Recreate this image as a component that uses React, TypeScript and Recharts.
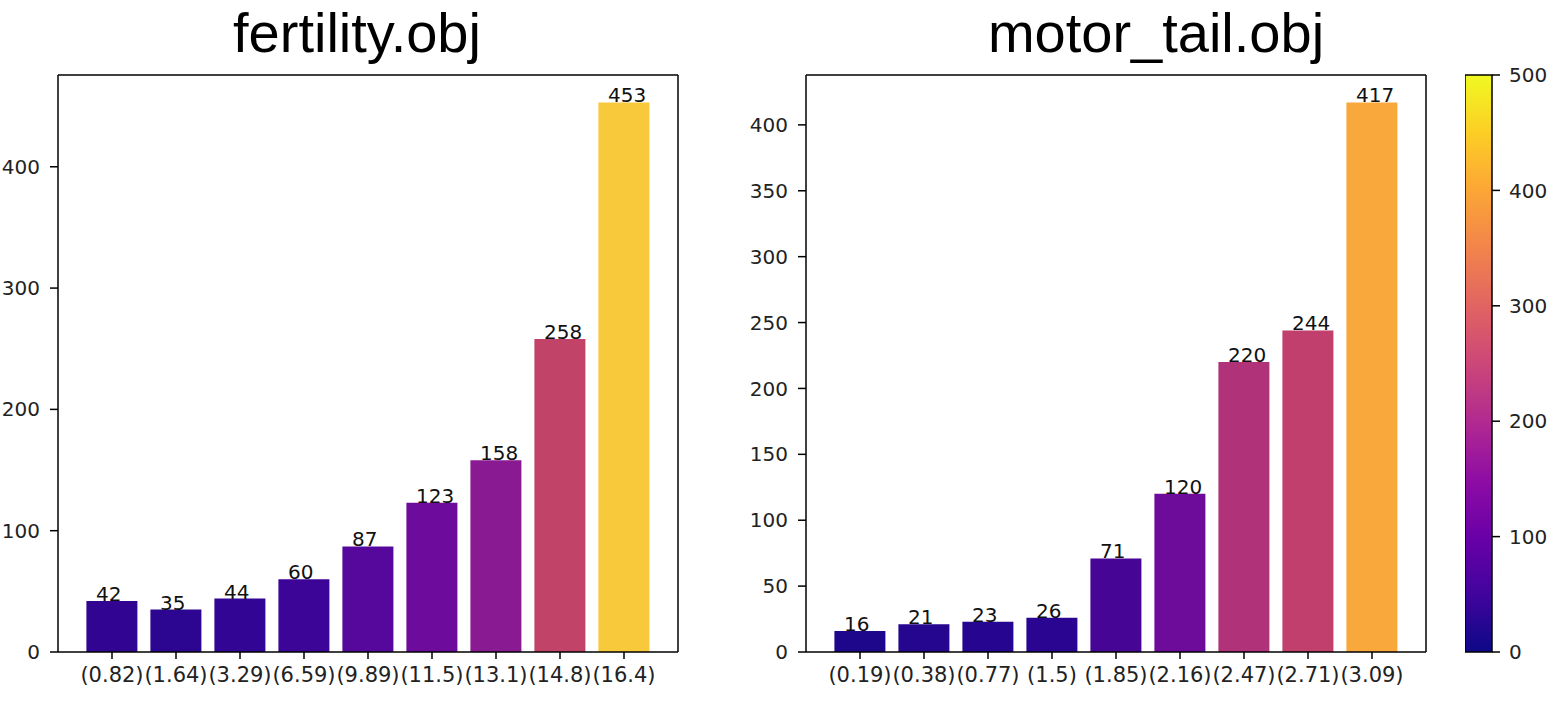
import React from 'react';
import {
  Bar,
  XAxis,
  YAxis,
  Cell,
  LabelList,
  ComposedChart,
  Line,
  ReferenceArea,
  CartesianGrid,
} from 'recharts';

// ---------- data ----------
const leftTitle = 'fertility.obj';
const rightTitle = 'motor_tail.obj';

const leftCategories = ['(0.82)', '(1.64)', '(3.29)', '(6.59)', '(9.89)', '(11.5)', '(13.1)', '(14.8)', '(16.4)'];
const leftValues = [42, 35, 44, 60, 87, 123, 158, 258, 453];

const rightCategories = ['(0.19)', '(0.38)', '(0.77)', '(1.5)', '(1.85)', '(2.16)', '(2.47)', '(2.71)', '(3.09)'];
const rightValues = [16, 21, 23, 26, 71, 120, 220, 244, 417];

const leftTicks = [0, 100, 200, 300, 400];
const rightTicks = [0, 50, 100, 150, 200, 250, 300, 350, 400];
const colorbarTicks = [0, 100, 200, 300, 400, 500];
const colorbarRange = [0, 500];

// ---------- styles ----------
const leftColors = ['#310592', '#2c0590', '#330594', '#3c0598', '#56079c', '#6c0b9c', '#8a1a92', '#c24368', '#f7c93b'];
const rightColors = ['#1f078c', '#24068f', '#260690', '#290591', '#470596', '#6d0b9b', '#b03278', '#c13f6c', '#f9a83c'];

const plasmaStops = [
  '#0d0887', '#41049d', '#6a00a8', '#8f0da4', '#b12a90', '#cc4778',
  '#e16462', '#f2844b', '#fca636', '#fcce25', '#f0f921',
];

const FONT = 'DejaVu Sans';
const TEXT = '#222222';
const AXIS = { stroke: '#000', strokeWidth: 1.5 };

const leftData = leftCategories.map((name, i) => ({ name, value: leftValues[i] }));
const rightData = rightCategories.map((name, i) => ({ name, value: rightValues[i] }));

const renderValueLabel = (props: any) => {
  const { x, y, width, value } = props;
  return (
    <text
      x={Number(x) + Number(width) * 0.1875}
      y={Number(y)}
      fontSize={20}
      fontFamily={FONT}
      fill="#111"
    >
      {value}
    </text>
  );
};

const topSpine = (args: any) => [args.offset.top];
const rightSpine = (args: any) => [args.offset.left + args.offset.width];

type PanelProps = {
  data: { name: string; value: number }[];
  colors: string[];
  ticks: number[];
  left: number;
};

const Panel = ({ data, colors, ticks, left }: PanelProps) => {
  const maxV = Math.max(...data.map((d) => d.value));
  const domain = [0, maxV * 1.05];
  return (
    <div style={{ position: 'absolute', left, top: 0 }}>
      <ComposedChart
        width={700}
        height={706}
        data={data}
        margin={{ top: 75, right: 22, bottom: 0, left: 0 }}
        barCategoryGap="10%"
      >
        <CartesianGrid
          stroke="#000"
          strokeWidth={1.5}
          horizontalCoordinatesGenerator={topSpine}
          verticalCoordinatesGenerator={rightSpine}
        />
        <XAxis
          dataKey="name"
          padding={{ left: 22, right: 22 }}
          height={54}
          interval={0}
          tickSize={7}
          tickMargin={8}
          tick={{ fontSize: 21, fill: TEXT, fontFamily: FONT }}
          axisLine={AXIS}
          tickLine={AXIS}
        />
        <YAxis
          width={58}
          type="number"
          domain={domain}
          allowDataOverflow
          ticks={ticks}
          interval={0}
          tickSize={8}
          tickMargin={10}
          tick={{ fontSize: 20, fill: TEXT, fontFamily: FONT }}
          axisLine={AXIS}
          tickLine={AXIS}
        />
        <Bar dataKey="value" isAnimationActive={false}>
          {data.map((d, i) => (
            <Cell key={d.name} fill={colors[i]} />
          ))}
          <LabelList dataKey="value" content={renderValueLabel} />
        </Bar>
      </ComposedChart>
    </div>
  );
};

const colorbarData = [{ x: 0, v: 0 }, { x: 1, v: 0 }];

const Colorbar = () => (
  <div style={{ position: 'absolute', left: 1465, top: 0 }}>
    <ComposedChart
      width={99}
      height={706}
      data={colorbarData}
      margin={{ top: 75, right: 0, bottom: 54, left: 0 }}
    >
      <XAxis dataKey="x" type="number" domain={[0, 1]} hide />
      <YAxis
        orientation="right"
        width={72}
        type="number"
        domain={colorbarRange}
        allowDataOverflow
        ticks={colorbarTicks}
        interval={0}
        tickSize={8}
        tickMargin={9}
        tick={{ fontSize: 20, fill: TEXT, fontFamily: FONT }}
        axisLine={false}
        tickLine={AXIS}
      />
      <ReferenceArea
        x1={0}
        x2={1}
        y1={colorbarRange[0]}
        y2={colorbarRange[1]}
        fill="url(#plasmaGrad)"
        fillOpacity={1}
        stroke="#000"
        strokeWidth={1.5}
      />
      <Line dataKey="v" stroke="none" dot={false} isAnimationActive={false} />
    </ComposedChart>
  </div>
);

export default function App() {
  return (
    <div
      style={{
        position: 'absolute',
        left: 0,
        top: 0,
        width: 1564,
        height: 706,
        background: '#fff',
        overflow: 'hidden',
      }}
    >
      <svg width={0} height={0} style={{ position: 'absolute' }}>
        <defs>
          <linearGradient id="plasmaGrad" x1="0" y1="1" x2="0" y2="0">
            {plasmaStops.map((c, i) => (
              <stop key={i} offset={`${(i / (plasmaStops.length - 1)) * 100}%`} stopColor={c} />
            ))}
          </linearGradient>
        </defs>
      </svg>
      <Panel data={leftData} colors={leftColors} ticks={leftTicks} left={0} />
      <Panel data={rightData} colors={rightColors} ticks={rightTicks} left={748} />
      <Colorbar />
      <svg
        width={1564}
        height={706}
        style={{ position: 'absolute', left: 0, top: 0, pointerEvents: 'none' }}
      >
        <text x={357} y={52} textAnchor="middle" fontSize={56} fontFamily="Liberation Sans" fill="#000">
          {leftTitle}
        </text>
        <text x={1156} y={52} textAnchor="middle" fontSize={56} fontFamily="Liberation Sans" fill="#000">
          {rightTitle}
        </text>
      </svg>
    </div>
  );
}
